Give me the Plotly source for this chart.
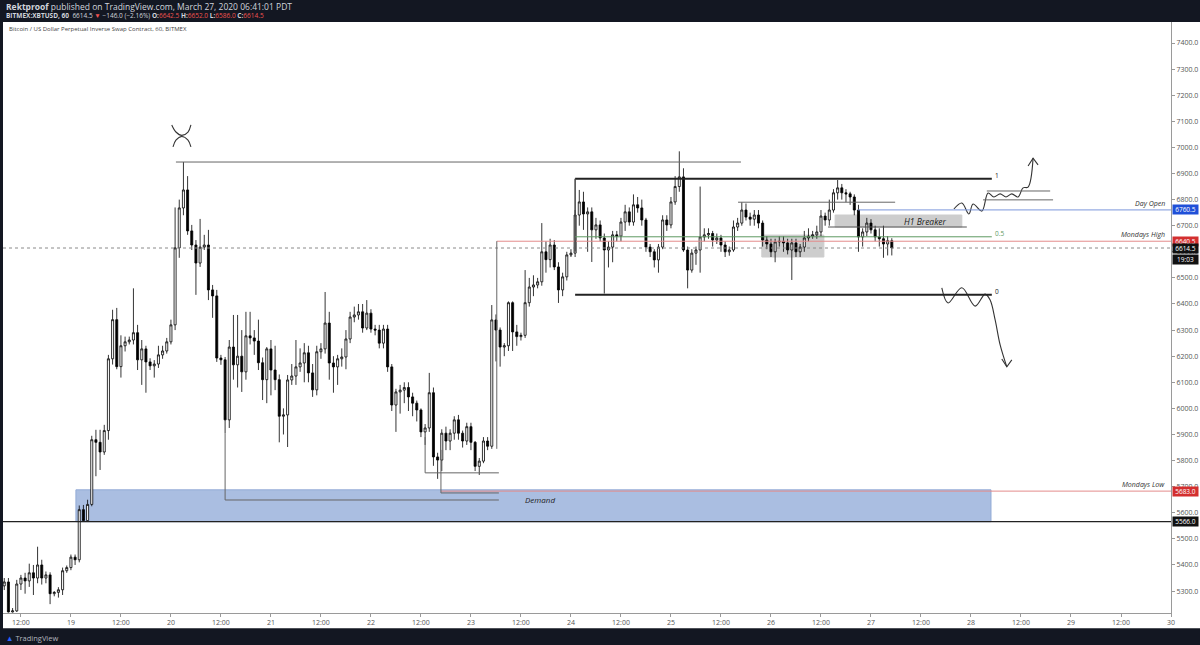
import pandas as pd
import plotly.graph_objects as go

# ---------------- data (hourly XBTUSD candles) ----------------
START = "2020-03-18 08:00"
ORIGIN = pd.Timestamp("2020-03-19 00:00")

opens = [
    5320, 5335, 5220, 5224, 5327, 5350, 5339, 5370, 5350, 5400,
    5350, 5362, 5290, 5295, 5305, 5378, 5390, 5430, 5420, 5612,
    5570, 5632, 5880, 5870, 5833, 5915, 6190, 6340, 6160, 6240,
    6255, 6262, 6290, 6186, 6228, 6178, 6163, 6170, 6205, 6220,
    6255, 6320, 6615, 6768, 6837, 6680, 6626, 6557, 6618, 6626,
    6454, 6431, 6193, 6186, 5956, 6235, 6167, 6200, 6140, 6278,
    6270, 6258, 6175, 6110, 6228, 6147, 6110,
    5970, 5975, 6109, 6124, 6159, 6174, 6213, 6136, 6071, 6217,
    6228, 6327, 6174, 6159, 6190, 6197, 6266, 6350, 6358, 6370,
    6308, 6365, 6304, 6300, 6250, 6304, 6159, 6013, 6063, 6070,
    6080, 6044, 6020, 5994, 5910, 5925, 6060, 5814, 5802, 5905,
    5875, 5905, 5956, 5905, 5875, 5930, 5870, 5778, 5798, 5875,
    5855, 6339, 6300, 6235, 6240, 6405, 6293, 6275, 6280, 6405,
    6465, 6473, 6485, 6600, 6570, 6626, 6542, 6454, 6504, 6588,
    6595, 6741, 6791, 6745, 6753, 6684, 6703, 6653, 6607, 6618,
    6665, 6660, 6714, 6753, 6714, 6780, 6768, 6722, 6618, 6600,
    6569, 6618, 6722, 6703, 6791, 6850, 6887, 6607, 6530, 6595,
    6607, 6657, 6665, 6670, 6645, 6653, 6626, 6600, 6607, 6695,
    6710, 6760, 6733, 6725, 6741, 6710, 6645, 6630, 6600, 6638,
    6640, 6634, 6607, 6634, 6600, 6618, 6653, 6660, 6665, 6676,
    6737, 6722, 6760, 6826, 6845, 6826, 6822, 6810, 6760, 6657,
    6676, 6710, 6684, 6657, 6650, 6630, 6642.5,
]
highs = [
    5350, 5350, 5235, 5343, 5362, 5370, 5405, 5400, 5470, 5420,
    5375, 5372, 5300, 5315, 5390, 5398, 5440, 5440, 5628, 5630,
    5650, 5895, 5918, 5918, 5937, 6205, 6378, 6385, 6280, 6275,
    6275, 6460, 6320, 6262, 6240, 6192, 6185, 6240, 6240, 6270,
    6340, 6770, 6800, 6944, 6890, 6703, 6645, 6726, 6665, 6684,
    6473, 6454, 6205, 6197, 6262, 6358, 6358, 6300, 6370, 6370,
    6300, 6340, 6195, 6235, 6262, 6240, 6130,
    6000, 6128, 6170, 6262, 6230, 6250, 6240, 6170, 6240, 6250,
    6446, 6370, 6200, 6205, 6230, 6300, 6370, 6390, 6400, 6400,
    6415, 6380, 6320, 6320, 6320, 6320, 6170, 6075, 6090, 6100,
    6100, 6060, 6030, 6000, 5940, 6136, 6080, 5830, 5920, 5930,
    5920, 5970, 5975, 5915, 5945, 5945, 5875, 5810, 5890, 5890,
    6396, 6360, 6310, 6250, 6410, 6410, 6320, 6290, 6530, 6500,
    6510, 6500, 6710, 6640, 6650, 6645, 6560, 6520, 6600, 6610,
    6760, 6837, 6830, 6770, 6770, 6730, 6720, 6670, 6640, 6680,
    6680, 6730, 6780, 6770, 6820, 6810, 6800, 6730, 6630, 6610,
    6630, 6740, 6740, 6810, 6890, 6985, 6920, 6620, 6610, 6620,
    6850, 6690, 6690, 6680, 6670, 6665, 6640, 6620, 6720, 6730,
    6790, 6785, 6750, 6760, 6760, 6720, 6660, 6650, 6650, 6660,
    6660, 6650, 6650, 6650, 6630, 6680, 6690, 6680, 6700, 6760,
    6750, 6800, 6840, 6875, 6860, 6840, 6830, 6820, 6780, 6690,
    6730, 6725, 6700, 6690, 6700, 6660, 6652,
]
lows = [
    5304, 5218, 5218, 5220, 5304, 5290, 5316, 5285, 5330, 5325,
    5330, 5250, 5280, 5275, 5285, 5370, 5380, 5400, 5410, 5565,
    5565, 5625, 5740, 5764, 5822, 5880, 6168, 6150, 6118, 6218,
    6245, 6245, 6147, 6090, 6060, 6147, 6118, 6155, 6190, 6210,
    6245, 6300, 6577, 6740, 6665, 6607, 6435, 6542, 6607, 6415,
    6347, 6178, 6167, 5905, 5925, 6110, 6080, 6063, 6110, 6245,
    6205, 6147, 6032, 6020, 6050, 6070, 5870,
    5900, 5852, 6090, 6090, 6140, 6100, 6100, 6044, 6050, 6190,
    6210, 6110, 6060, 6090, 6160, 6150, 6250, 6330, 6340, 6290,
    6300, 6290, 6280, 6230, 6230, 6140, 5990, 5910, 5980, 6020,
    5990, 5970, 5950, 5890, 5860, 5910, 5780, 5730, 5760, 5840,
    5840, 5880, 5880, 5850, 5860, 5840, 5760, 5745, 5790, 5840,
    5845, 6180, 6160, 6200, 6220, 6220, 6240, 6260, 6270, 6390,
    6430, 6460, 6470, 6520, 6540, 6530, 6404, 6430, 6490, 6580,
    6580, 6700, 6684, 6600, 6561, 6650, 6640, 6440, 6540, 6560,
    6640, 6640, 6680, 6700, 6700, 6750, 6700, 6600, 6580, 6540,
    6520, 6610, 6680, 6690, 6780, 6830, 6600, 6460, 6520, 6550,
    6520, 6640, 6650, 6620, 6630, 6600, 6580, 6585, 6600, 6680,
    6700, 6720, 6700, 6700, 6690, 6620, 6610, 6580, 6560, 6620,
    6600, 6590, 6492, 6580, 6580, 6600, 6640, 6650, 6650, 6660,
    6700, 6700, 6750, 6800, 6800, 6790, 6780, 6740, 6600, 6620,
    6660, 6670, 6640, 6620, 6577, 6586, 6586,
]
closes = [
    5335, 5220, 5224, 5327, 5350, 5339, 5370, 5350, 5400, 5350,
    5362, 5290, 5295, 5305, 5378, 5390, 5430, 5420, 5612, 5570,
    5632, 5880, 5870, 5833, 5915, 6190, 6340, 6160, 6240, 6255,
    6262, 6290, 6186, 6228, 6178, 6163, 6170, 6205, 6220, 6255,
    6320, 6615, 6768, 6837, 6680, 6626, 6557, 6618, 6626, 6454,
    6431, 6193, 6186, 5956, 6235, 6167, 6200, 6140, 6278, 6270,
    6258, 6175, 6110, 6228, 6147, 6110, 5970,
    5975, 6109, 6124, 6159, 6174, 6213, 6136, 6071, 6217, 6228,
    6327, 6174, 6159, 6190, 6197, 6266, 6350, 6358, 6370, 6308,
    6365, 6304, 6300, 6250, 6304, 6159, 6013, 6063, 6070, 6080,
    6044, 6020, 5994, 5910, 5925, 6060, 5814, 5802, 5905, 5875,
    5905, 5956, 5905, 5875, 5930, 5870, 5778, 5798, 5875, 5855,
    6339, 6300, 6235, 6240, 6405, 6293, 6275, 6280, 6405, 6465,
    6473, 6485, 6600, 6570, 6626, 6542, 6454, 6504, 6588, 6595,
    6741, 6791, 6745, 6753, 6684, 6703, 6653, 6607, 6618, 6665,
    6660, 6714, 6753, 6714, 6780, 6768, 6722, 6618, 6600, 6569,
    6618, 6722, 6703, 6791, 6850, 6887, 6607, 6530, 6595, 6607,
    6657, 6665, 6670, 6645, 6653, 6626, 6600, 6607, 6695, 6710,
    6760, 6733, 6725, 6741, 6710, 6645, 6630, 6600, 6638, 6640,
    6634, 6607, 6634, 6600, 6618, 6653, 6660, 6665, 6676, 6737,
    6722, 6760, 6826, 6845, 6826, 6822, 6810, 6760, 6657, 6676,
    6710, 6684, 6657, 6650, 6630, 6642.5, 6614.5,
]

price_ticks = list(range(5300, 7401, 100))
day_labels = ["18", "19", "20", "21", "22", "23", "24", "25", "26", "27", "28", "29", "30"]

# key levels
LAST = 6614.5
DAY_OPEN = 6760.5
MON_HIGH = 6640.5
MON_LOW = 5683.0
SUPPORT = 5566.0
PEAK = 6944.0
RANGE_TOP = 6880.0
RANGE_BOT = 6435.0
RANGE_MID = 6657.5

# ---------------- derived ----------------
times = pd.date_range(START, periods=len(closes), freq="h")
hours = [(t - ORIGIN) / pd.Timedelta(hours=1) for t in times]

X0, X1 = -16.3, 264.0
Y0, Y1 = 5216.0, 7480.5

tickvals, ticktext = [], []
for i, d in enumerate(day_labels):
    h0 = (i - 1) * 24
    for hh, lab in ((h0, d), (h0 + 12, "12:00")):
        if X0 <= hh <= X1:
            tickvals.append(hh)
            ticktext.append(lab)

DARK = "#131722"
fig = go.Figure()

fig.add_trace(go.Candlestick(
    x=hours, open=opens, high=highs, low=lows, close=closes,
    increasing=dict(line=dict(color="#000000", width=0.8), fillcolor="#ffffff"),
    decreasing=dict(line=dict(color="#000000", width=0.8), fillcolor="#000000"),
    whiskerwidth=0, hoverinfo="skip", showlegend=False,
))

shapes = []


def seg(x0, y0, x1, y1, color="#5a5a5a", width=1, dash="solid"):
    shapes.append(dict(type="line", xref="x", yref="y", x0=x0, y0=y0, x1=x1, y1=y1,
                       line=dict(color=color, width=width, dash=dash), layer="above"))


def box(x0, x1, y0, y1, fill, line=None):
    shapes.append(dict(type="rect", xref="x", yref="y", x0=x0, x1=x1, y0=y0, y1=y1,
                       fillcolor=fill, line=dict(color=line or fill, width=1), layer="below"))


# white page behind chart + axes
shapes.append(dict(type="rect", xref="paper", yref="paper", x0=0, x1=1.03, y0=-0.026, y1=1,
                   fillcolor="#ffffff", line=dict(width=0), layer="below"))

# zones
box(1.2, 220.8, SUPPORT, 5688, "#aabee1", "#93abd6")
box(165.8, 180.7, 6580, 6664, "#cdcdcd")
box(183.4, 213.8, 6695, 6741, "#cdcdcd")

# level lines
seg(X0, SUPPORT, X1, SUPPORT, "#222222", 1.2)
seg(X0, LAST, X1, LAST, "#8a8a8a", 1, "dot")
seg(88.8, MON_LOW, X1, MON_LOW, "#e38b8b", 1)
seg(102.2, MON_HIGH, X1, MON_HIGH, "#e38b8b", 1)
seg(188.9, DAY_OPEN, X1, DAY_OPEN, "#7b96db", 1)

# swing-high line
seg(25.2, PEAK, 160.8, PEAK, "#666666", 1)

# lows projected
seg(37.0, 5905, 37.0, 5649, "#666666", 1)
seg(37.0, 5649, 102.7, 5649, "#666666", 1)
seg(85.0, 5890, 85.0, 5753, "#666666", 1)
seg(85.0, 5753, 102.7, 5753, "#666666", 1)
seg(88.8, 5841, 88.8, 5676, "#666666", 1)
seg(88.8, 5676, 102.7, 5676, "#666666", 1)
seg(102.2, 5845, 102.2, MON_HIGH, "#666666", 1)

# range (fib 1 / 0.5 / 0)
seg(121.0, RANGE_TOP, 221.0, RANGE_TOP, "#222222", 2)
seg(121.0, RANGE_BOT, 221.0, RANGE_BOT, "#222222", 2)
seg(121.0, RANGE_TOP, 121.0, 6600, "#444444", 1.5)
seg(121.0, RANGE_MID, 221.0, RANGE_MID, "#5e9a62", 1)

# small lines
seg(160.1, 6790, 197.8, 6790, "#666666", 1)
seg(181.7, 6695, 215.0, 6695, "#555555", 1)
seg(219.8, 6833, 235.0, 6833, "#666666", 1)
seg(218.9, 6799, 235.7, 6799, "#666666", 1)

# hand-drawn paths
paths = {
    "x_top": ([24.2, 25.2, 26.6, 28.1, 28.8], [7086, 7059, 7046, 7059, 7086]),
    "x_bot": ([24.5, 25.2, 26.6, 28.1, 28.8], [7002, 7028, 7042, 7028, 7002]),
    "up": ([211.9, 213.8, 215.5, 216.5, 218.6, 220.1, 221.5, 223.0, 224.4, 225.8, 227.3, 228.5, 229.7, 230.9],
           [6764, 6787, 6745, 6783, 6756, 6825, 6810, 6822, 6810, 6822, 6810, 6845, 6848, 6959]),
    "up_head": ([229.7, 230.9, 232.1], [6929, 6959, 6933]),
    "down": ([209.0, 210.5, 213.8, 217.0, 219.4, 220.6, 221.8, 223.0, 224.6],
             [6462, 6404, 6462, 6392, 6438, 6415, 6339, 6243, 6159]),
    "down_head": ([223.4, 224.6, 225.8], [6189, 6159, 6186]),
}
for name, (px, py) in paths.items():
    fig.add_trace(go.Scatter(x=px, y=py, mode="lines",
                             line=dict(color="#333333", width=1.1,
                                       shape="linear" if name.endswith("head") else "spline"),
                             hoverinfo="skip", showlegend=False))

ann = []


def txt(x, y, s, size=8, color="#333333", xanchor="center", italic=False, **kw):
    if italic:
        s = "<i>" + s + "</i>"
    ann.append(dict(x=x, y=y, xref="x", yref="y", text=s, showarrow=False,
                    font=dict(size=size, color=color, family="Open Sans"), xanchor=xanchor, **kw))


txt(112.6, 5649, "Demand", 8, "#222222", italic=True)
txt(205.0, 6718, "H1 Breaker", 8.5, "#222222", italic=True)
txt(221.4, RANGE_TOP + 12, "1", 6.5, "#222222", "left")
txt(221.4, RANGE_MID + 12, "0.5", 6.5, "#5e9a62", "left")
txt(221.4, RANGE_BOT + 12, "0", 6.5, "#222222", "left")


def right_text(y, s):
    ann.append(dict(x=1, y=y, xref="paper", yref="y", text="<i>" + s + "</i>", showarrow=False,
                    xanchor="right", yanchor="bottom", xshift=-4, yshift=0,
                    font=dict(size=7, color="#333333", family="Open Sans")))


right_text(DAY_OPEN, "Day Open")
right_text(MON_HIGH, "Mondays High")
right_text(MON_LOW, "Mondays Low")


def axis_tag(y, s, bg):
    ann.append(dict(x=1, y=y, xref="paper", yref="y", text=s, showarrow=False,
                    xanchor="left", yanchor="middle", xshift=1, bgcolor=bg, borderpad=0,
                    width=25, height=9,
                    font=dict(size=6.5, color="#ffffff", family="Open Sans")))


axis_tag(DAY_OPEN, "%.1f" % DAY_OPEN, "#2050d8")
axis_tag(MON_HIGH, "%.1f" % MON_HIGH, "#d32f2f")
axis_tag(LAST, "%.1f" % LAST, "#111111")
axis_tag(6572, "19:03", "#111111")
axis_tag(MON_LOW, "%.1f" % MON_LOW, "#d32f2f")
axis_tag(SUPPORT, "%.1f" % SUPPORT, "#111111")

# header / footer
RED = "#ef5350"
ann.append(dict(x=0, y=1.027, xref="paper", yref="paper", xanchor="left", yanchor="middle", xshift=1,
                showarrow=False,
                text="<b>Rektproof</b> published on TradingView.com, March 27, 2020 06:41:01 PDT",
                font=dict(size=8.5, color="#d1d4dc", family="Open Sans")))
ann.append(dict(x=0, y=1.0115, xref="paper", yref="paper", xanchor="left", yanchor="middle", xshift=1,
                showarrow=False,
                text=("<b>BITMEX:XBTUSD, 60</b>  6614.5 <span style='color:%s'>▼</span> −146.0 (−2.16%%) "
                      "<b>O:</b><span style='color:%s'>6642.5</span> <b>H:</b><span style='color:%s'>6652.0</span> "
                      "<b>L:</b><span style='color:%s'>6586.0</span> <b>C:</b><span style='color:%s'>6614.5</span>")
                     % (RED, RED, RED, RED, RED),
                font=dict(size=6.5, color="#d1d4dc", family="Open Sans")))
ann.append(dict(x=0, y=0.988, xref="paper", yref="paper", xanchor="left", yanchor="middle", xshift=4,
                showarrow=False, text="Bitcoin / US Dollar Perpetual Inverse Swap Contract, 60, BITMEX",
                font=dict(size=6, color="#444444", family="Open Sans")))
ann.append(dict(x=0, y=-0.042, xref="paper", yref="paper", xanchor="left", yanchor="middle", xshift=1,
                showarrow=False,
                text="<span style='color:#2962ff'>▲</span> TradingView",
                font=dict(size=7.5, color="#b2b5be", family="Open Sans")))

fig.update_layout(
    width=1200, height=645,
    margin=dict(l=3, r=29, t=22, b=32),
    paper_bgcolor=DARK, plot_bgcolor="#ffffff",
    shapes=shapes, annotations=ann, showlegend=False,
    xaxis=dict(range=[X0, X1], tickvals=tickvals, ticktext=ticktext, showgrid=False, zeroline=False,
               showline=True, linecolor="#9a9a9a", ticks="outside", ticklen=3, tickcolor="#9a9a9a",
               tickfont=dict(size=7, color="#555555", family="Open Sans"), rangeslider=dict(visible=False),
               fixedrange=True),
    yaxis=dict(range=[Y0, Y1], side="right", tickvals=price_ticks,
               ticktext=["%.1f" % v for v in price_ticks], showgrid=False, zeroline=False,
               showline=True, linecolor="#9a9a9a", ticks="outside", ticklen=3, tickcolor="#9a9a9a",
               tickfont=dict(size=7, color="#555555", family="Open Sans"), fixedrange=True),
)

fig.write_html("out.html", config={"displayModeBar": False, "staticPlot": True})

# remove the browser's default page margin so the figure fills the window exactly
with open("out.html", encoding="utf-8") as f:
    page = f.read()
page = page.replace("<head>", "<head><style>html,body{margin:0;padding:0;background:%s;overflow:hidden;}</style>" % DARK, 1)
with open("out.html", "w", encoding="utf-8") as f:
    f.write(page)
